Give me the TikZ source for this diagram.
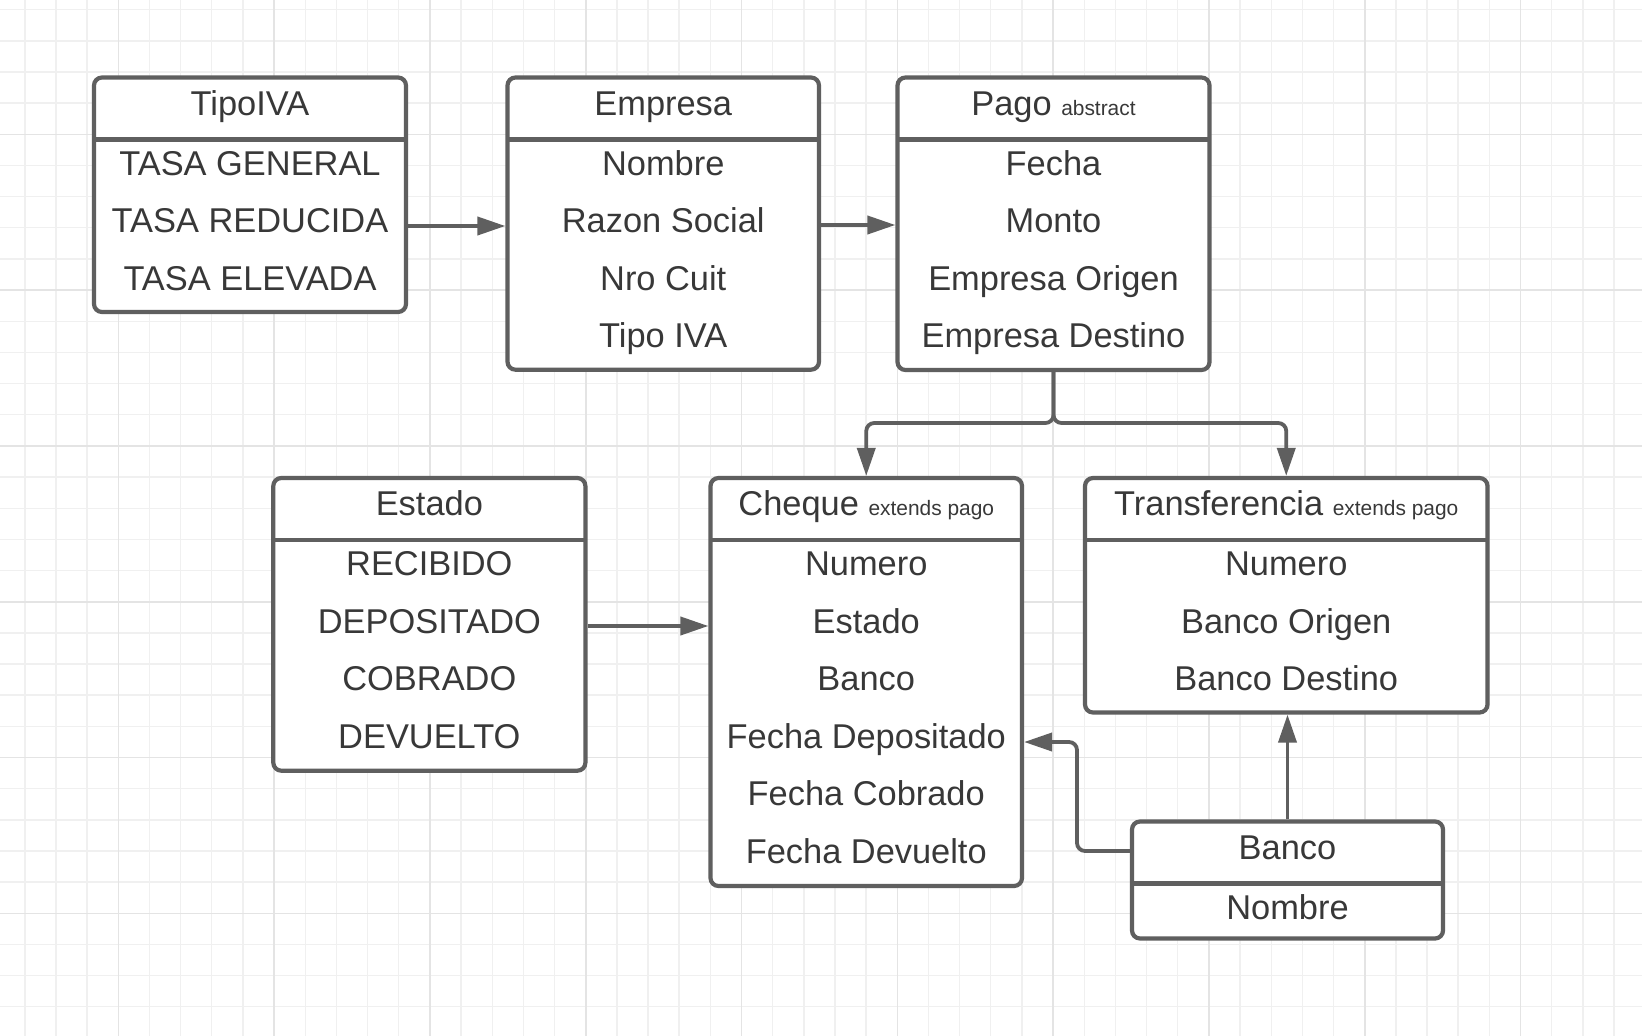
\documentclass[tikz,border=0pt]{standalone}
\usepackage{fontspec}
\setmainfont{Liberation Sans}
\usetikzlibrary{arrows.meta,calc}
\definecolor{lineC}{HTML}{5F5F5F}
\definecolor{textC}{HTML}{383838}
\definecolor{gridMinor}{HTML}{F0F0F0}
\definecolor{gridMajor}{HTML}{E4E4E4}
\newcommand\bigf{\fontsize{34.4}{40}\selectfont}
\newcommand\smallf{\fontsize{20.9}{24}\selectfont}
\newcommand\umlbox[7]{%
  \node[umlbox, minimum width={#4-#2}, minimum height={#5-#3}] (#1) at ({(#2+#4)/2},{(#3+#5)/2}) {};
  \draw[sepline] (#2,{#3+62}) -- (#4,{#3+62});
  \node[txt] (#1-h) at ({(#2+#4)/2},{#3+37.5}) {#6};
  \foreach \lbl [count=\i] in {#7} {
    \node[txt] (#1-\i) at ({(#2+#4)/2},{#3+97.5+57.6*(\i-1)}) {\lbl};
  }%
}
\tikzset{
  umlbox/.style={draw=lineC, line width=4.2pt, rounded corners=8pt, fill=white, inner sep=0pt},
  sepline/.style={draw=lineC, line width=4.2pt},
  txt/.style={text=textC, font=\bigf, anchor=base, inner sep=0pt},
  conn/.style={draw=lineC, line width=3.8pt, -{Triangle[length=28pt,width=18pt]}},
  minorline/.style={draw=gridMinor, line width=1.4pt},
  majorline/.style={draw=gridMajor, line width=1.6pt},
}
\begin{document}
\begin{tikzpicture}[x=1pt,y=-1pt]
\fill[white] (0,0) rectangle (1642,1036);
\useasboundingbox (0,0) rectangle (1642,1036);
% grid
\foreach \k in {-3,...,48} \draw[minorline] ({118.3+31.16*\k},0) -- ({118.3+31.16*\k},1036);
\foreach \k in {-4,...,28} \draw[minorline] (0,{134.3+31.16*\k}) -- (1642,{134.3+31.16*\k});
\foreach \k in {0,...,9} \draw[majorline] ({118.3+155.8*\k},0) -- ({118.3+155.8*\k},1036);
\foreach \k in {0,...,5} \draw[majorline] (0,{134.3+155.8*\k}) -- (1642,{134.3+155.8*\k});
% boxes
\umlbox{tipo}{94}{77.5}{406}{312}{TipoIVA}{TASA GENERAL,TASA REDUCIDA,TASA ELEVADA}
\umlbox{emp}{507.5}{77.5}{819}{369.7}{Empresa}{Nombre,Razon Social,Nro Cuit,Tipo IVA}
\umlbox{pago}{897.5}{77.5}{1209.5}{370}{Pago {\smallf abstract}}{Fecha,Monto,Empresa Origen,Empresa Destino}
\umlbox{estado}{273.3}{478}{585.4}{770.7}{Estado}{RECIBIDO,DEPOSITADO,COBRADO,DEVUELTO}
\umlbox{cheque}{710.5}{478}{1022}{886}{Cheque {\smallf extends pago}}{Numero,Estado,Banco,Fecha Depositado,Fecha Cobrado,Fecha Devuelto}
\umlbox{transf}{1085}{478}{1487.5}{712.5}{Transferencia {\smallf extends pago}}{Numero,Banco Origen,Banco Destino}
\umlbox{banco}{1132}{821.5}{1443}{938.5}{Banco}{Nombre}
% connector helper coordinates
\coordinate (a1) at (0,226);
\coordinate (a2) at (0,225);
\coordinate (a3) at (0,626);
\coordinate (split) at (0,423);
\coordinate (bend1) at (1077,851);
\coordinate (bend2) at (1077,742);
% connectors
\draw[conn] (tipo.east |- a1) -- (emp.west |- a1);
\draw[conn] (emp.east |- a2) -- (pago.west |- a2);
\draw[conn] (estado.east |- a3) -- (cheque.west |- a3);
\draw[conn, rounded corners=8pt] (pago.south) -- (pago.south |- split) -| (cheque.north);
\draw[conn, rounded corners=8pt] (pago.south) -- (pago.south |- split) -| (transf.north);
\draw[conn] (banco.north) -- (banco.north |- transf.south);
\draw[conn, rounded corners=8pt] (banco.west |- bend1) -- (bend1) -- (bend2) -- (cheque.east |- bend2);
\end{tikzpicture}
\end{document}
